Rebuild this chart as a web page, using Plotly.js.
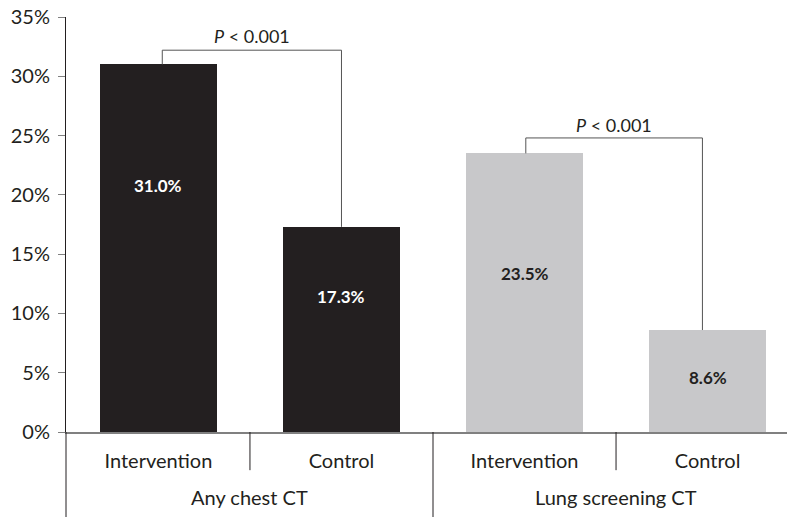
<!DOCTYPE html>
<html>
<head>
<meta charset="utf-8">
<script src="https://cdn.plot.ly/plotly-3.0.1.min.js"></script>
<style>html,body{margin:0;padding:0;background:#fff}#chart{width:787px;height:517px}</style>
</head>
<body>
<div id="chart"></div>
<script>
// Data
var groups = ["Any chest CT", "Lung screening CT"];
var arms = ["Intervention", "Control", "Intervention", "Control"];
var values = [31.0, 17.3, 23.5, 8.6];
var barColors = ["#231f20", "#231f20", "#c8c8ca", "#c8c8ca"];
var labelColors = ["#ffffff", "#ffffff", "#231f20", "#231f20"];
var labelY = [20.8, 11.4, 13.4, 4.6];
var pText = "<i>P</i> < 0.001";
var yTicks = [0, 5, 10, 15, 20, 25, 30, 35];

var xs = values.map(function (v, i) { return i; });
var font = "Lato, 'Open Sans', 'Liberation Sans', sans-serif";
var ink = "#231f20";

var trace = {
  type: "bar",
  x: xs,
  y: values,
  width: 0.64,
  marker: { color: barColors, line: { width: 0 } },
  hoverinfo: "skip"
};

var annotations = values.map(function (v, i) {
  return {
    x: i, y: labelY[i], xref: "x", yref: "y",
    text: "<b>" + v.toFixed(1) + "%</b>",
    showarrow: false,
    font: { family: font, size: 17, color: labelColors[i] }
  };
});
groups.forEach(function (g, k) {
  annotations.push({
    x: 2 * k + 0.5, y: 0, xref: "x", yref: "paper",
    yshift: -65, yanchor: "middle",
    text: g, showarrow: false,
    font: { family: font, size: 20, color: ink }
  });
});
annotations.push({ x: 0.51, y: 33.4, xref: "x", yref: "y", text: pText, showarrow: false,
  font: { family: font, size: 18, color: ink } });
annotations.push({ x: 2.49, y: 25.9, xref: "x", yref: "y", text: pText, showarrow: false,
  font: { family: font, size: 18, color: ink } });

var bracketLine = { color: "#555555", width: 1 };
var shapes = [
  { type: "path", xref: "x", yref: "y",
    path: "M 0.021 " + values[0] + " L 0.021 32.2 L 1.0 32.2 L 1.0 " + values[1],
    line: bracketLine },
  { type: "path", xref: "x", yref: "y",
    path: "M 2.007 " + values[2] + " L 2.007 24.8 L 2.972 24.8 L 2.972 " + values[3],
    line: bracketLine },
  // category dividers below the axis
  { type: "line", xref: "x", yref: "paper", x0: 0.5, x1: 0.5, y0: 0, y1: -0.092, line: { color: ink, width: 1 } },
  { type: "line", xref: "x", yref: "paper", x0: 2.5, x1: 2.5, y0: 0, y1: -0.092, line: { color: ink, width: 1 } },
  { type: "line", xref: "x", yref: "paper", x0: 1.5, x1: 1.5, y0: 0, y1: -0.21, line: { color: ink, width: 1 } },
  { type: "line", xref: "paper", yref: "paper", x0: 0, x1: 0, y0: 0, y1: -0.21, line: { color: ink, width: 1 } }
];

var layout = {
  width: 787, height: 517,
  margin: { l: 66, r: 0, t: 17, b: 85, pad: 0 },
  paper_bgcolor: "#ffffff", plot_bgcolor: "#ffffff",
  showlegend: false,
  bargap: 0,
  xaxis: {
    range: [-0.505, 3.434],
    tickvals: xs, ticktext: arms,
    ticks: "", showgrid: false, zeroline: false,
    showline: true, linecolor: "#808080", linewidth: 2,
    ticklabelstandoff: 10,
    tickfont: { family: font, size: 20, color: ink },
    fixedrange: true
  },
  yaxis: {
    range: [0, 35],
    tickvals: yTicks, ticktext: yTicks.map(function (t) { return t + "%"; }),
    ticks: "outside", ticklen: 7, tickcolor: "#808080", tickwidth: 1,
    showgrid: false, zeroline: false,
    showline: true, linecolor: ink, linewidth: 1,
    ticklabelstandoff: 4,
    tickfont: { family: font, size: 20, color: ink },
    fixedrange: true
  },
  annotations: annotations,
  shapes: shapes
};

Plotly.newPlot("chart", [trace], layout, { displayModeBar: false, staticPlot: true });
</script>
</body>
</html>
